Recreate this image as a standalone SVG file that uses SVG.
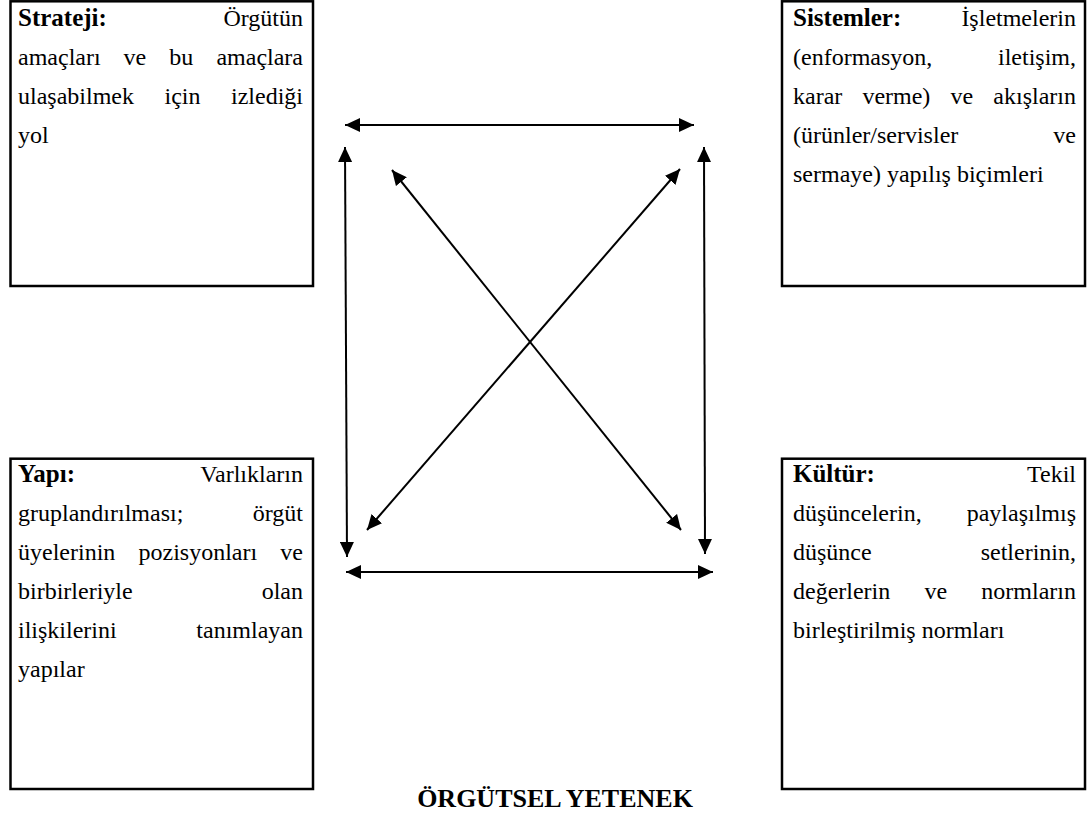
<svg xmlns="http://www.w3.org/2000/svg" width="1087" height="827" viewBox="0 0 1087 827">
<style>
  .box { fill: #fff; stroke: #000; stroke-width: 2.5; }
  .t { font-family: "Liberation Serif", "Times New Roman", serif; font-size: 24px; fill: #000; }
  .b { font-weight: bold; font-size: 25px; }
  .e { text-anchor: end; }
  .conn { stroke: #000; stroke-width: 2; fill: none; marker-start: url(#ah); marker-end: url(#ah); }
  .title { font-family: "Liberation Serif", "Times New Roman", serif; font-size: 26px; font-weight: bold; text-anchor: middle; fill: #000; }
</style>
<defs>
  <marker id="ah" markerUnits="userSpaceOnUse" markerWidth="15" markerHeight="14" refX="15" refY="7" orient="auto-start-reverse">
    <path d="M0,0 L15,7 L0,14 Z" fill="#000"/>
  </marker>
</defs>
<rect width="1087" height="827" fill="#fff"/>

<g id="strateji">
  <rect class="box" x="10.5" y="1.3" width="302.5" height="284.7"/>
  <text class="t" y="26"><tspan class="b" x="18">Strateji:</tspan><tspan class="e" x="303">Örgütün</tspan></text>
  <text class="t" y="65"><tspan x="18">amaçları</tspan><tspan x="123.6">ve</tspan><tspan x="169.3">bu</tspan><tspan class="e" x="303">amaçlara</tspan></text>
  <text class="t" y="104"><tspan x="18">ulaşabilmek</tspan><tspan x="164.5">için</tspan><tspan class="e" x="303">izlediği</tspan></text>
  <text class="t" y="143"><tspan x="18">yol</tspan></text>
</g>

<g id="sistemler">
  <rect class="box" x="782" y="1.3" width="303" height="284.7"/>
  <text class="t" y="26"><tspan class="b" x="793">Sistemler:</tspan><tspan class="e" x="1076">İşletmelerin</tspan></text>
  <text class="t" y="65"><tspan x="793">(enformasyon,</tspan><tspan class="e" x="1076">iletişim,</tspan></text>
  <text class="t" y="104"><tspan x="793">karar</tspan><tspan x="862.4">verme)</tspan><tspan x="950.5">ve</tspan><tspan class="e" x="1076">akışların</tspan></text>
  <text class="t" y="143"><tspan x="793">(ürünler/servisler</tspan><tspan class="e" x="1076">ve</tspan></text>
  <text class="t" y="182"><tspan x="793">sermaye) yapılış biçimleri</tspan></text>
</g>

<g id="yapi">
  <rect class="box" x="10.5" y="458.7" width="302.5" height="330.3"/>
  <text class="t" y="482"><tspan class="b" x="18">Yapı:</tspan><tspan class="e" x="303">Varlıkların</tspan></text>
  <text class="t" y="521"><tspan x="18">gruplandırılması;</tspan><tspan class="e" x="303">örgüt</tspan></text>
  <text class="t" y="560"><tspan x="18">üyelerinin</tspan><tspan x="138.5">pozisyonları</tspan><tspan class="e" x="303">ve</tspan></text>
  <text class="t" y="599"><tspan x="18">birbirleriyle</tspan><tspan class="e" x="303">olan</tspan></text>
  <text class="t" y="638"><tspan x="18">ilişkilerini</tspan><tspan class="e" x="303">tanımlayan</tspan></text>
  <text class="t" y="677"><tspan x="18">yapılar</tspan></text>
</g>

<g id="kultur">
  <rect class="box" x="782" y="458.7" width="303" height="330.3"/>
  <text class="t" y="482"><tspan class="b" x="793">Kültür:</tspan><tspan class="e" x="1076">Tekil</tspan></text>
  <text class="t" y="521"><tspan x="793">düşüncelerin,</tspan><tspan class="e" x="1076">paylaşılmış</tspan></text>
  <text class="t" y="560"><tspan x="793">düşünce</tspan><tspan class="e" x="1076">setlerinin,</tspan></text>
  <text class="t" y="599"><tspan x="793">değerlerin</tspan><tspan x="924.5">ve</tspan><tspan class="e" x="1076">normların</tspan></text>
  <text class="t" y="638"><tspan x="793">birleştirilmiş normları</tspan></text>
</g>

<g id="connectors">
  <line class="conn" x1="345" y1="125" x2="694" y2="125"/>
  <line class="conn" x1="346" y1="572" x2="713" y2="572"/>
  <line class="conn" x1="345" y1="147" x2="347" y2="557"/>
  <line class="conn" x1="704" y1="147" x2="705" y2="554"/>
  <line class="conn" x1="392" y1="170" x2="681" y2="530"/>
  <line class="conn" x1="680" y1="169" x2="367" y2="530"/>
</g>

<g id="title">
  <text class="title" x="555" y="807">ÖRGÜTSEL YETENEK</text>
</g>
</svg>
